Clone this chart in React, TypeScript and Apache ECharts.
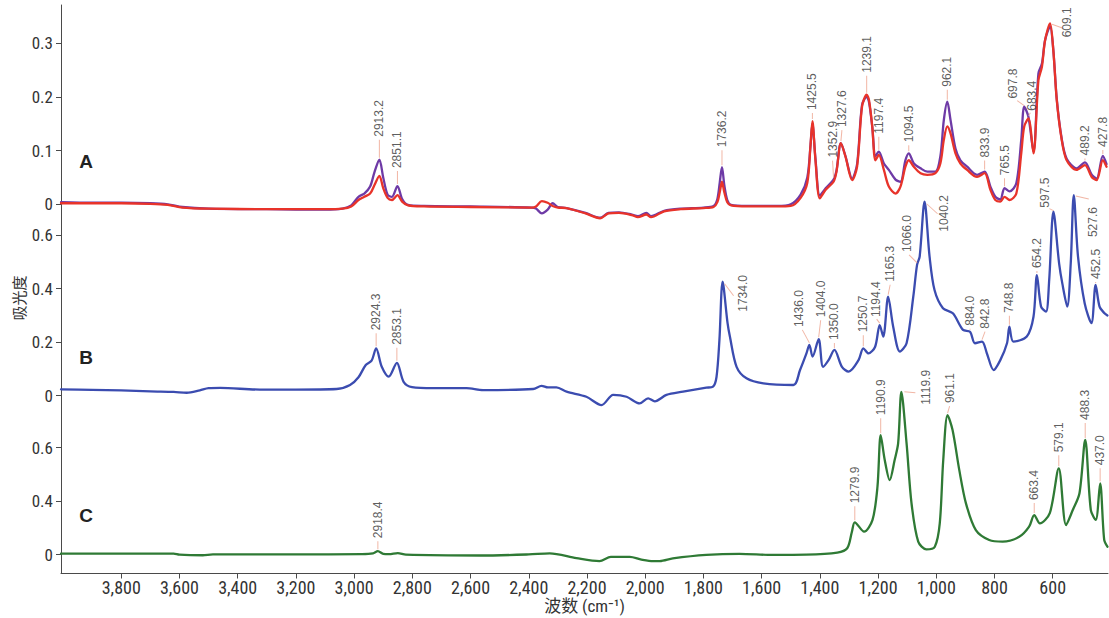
import React, { useEffect, useRef } from 'react';
import * as echarts from 'echarts';

// ---------- data ----------
const xTicks = [3800, 3600, 3400, 3200, 3000, 2800, 2600, 2400, 2200, 2000, 1800, 1600, 1400, 1200, 1000, 800, 600];
const yTicksA = [0, 0.1, 0.2, 0.3];
const yTicksB = [0, 0.2, 0.4, 0.6];
const yTicksC = [0, 0.2, 0.4];
const yTickLabelsC = ['0', '0.4', '0.6'];

const purpleA: [number, number][] = [
  [4007, 0.004], [3900, 0.003], [3800, 0.003], [3700, 0.002], [3640, 0.0], [3590, -0.005], [3500, -0.008], [3300, -0.009],
  [3100, -0.01], [3040, -0.008], [3010, -0.002], [2985, 0.014], [2965, 0.02], [2945, 0.033], [2930, 0.06], [2913.2, 0.083],
  [2900, 0.05], [2885, 0.018], [2870, 0.014], [2851.1, 0.034], [2835, 0.01], [2815, -0.001], [2760, -0.003], [2600, -0.004],
  [2390, -0.006], [2375, -0.008], [2355, -0.017], [2335, -0.01], [2318, 0.002], [2300, -0.005], [2270, -0.007], [2205, -0.016],
  [2155, -0.025], [2126, -0.016], [2090, -0.015], [2046, -0.019], [2025, -0.022], [1996, -0.016], [1980, -0.022], [1935, -0.012],
  [1878, -0.008], [1800, -0.006], [1765, -0.003], [1752, 0.01], [1744, 0.04], [1736.2, 0.069], [1728, 0.035], [1718, 0.008],
  [1705, -0.001], [1650, -0.003], [1547, -0.003], [1500, 0.0], [1466, 0.018], [1443, 0.05], [1432, 0.11], [1425.5, 0.15],
  [1415, 0.085], [1400, 0.016], [1380, 0.03], [1352.9, 0.046], [1343, 0.062], [1327.6, 0.114], [1312, 0.09], [1289, 0.048],
  [1272, 0.075], [1255, 0.185], [1239.1, 0.2], [1231, 0.19], [1220, 0.145], [1209, 0.09], [1197.4, 0.098], [1180, 0.076],
  [1163, 0.064], [1140, 0.046], [1123, 0.042], [1106, 0.082], [1094.5, 0.095], [1077, 0.076], [1054, 0.067], [1031, 0.061],
  [1003, 0.061], [986, 0.089], [974, 0.157], [962.1, 0.191], [951, 0.157], [934, 0.104], [917, 0.082], [894, 0.07],
  [860, 0.055], [833.9, 0.061], [814, 0.033], [797, 0.014], [780, 0.009], [765.5, 0.03], [748, 0.024], [725, 0.039],
  [708, 0.12], [697.8, 0.182], [683.4, 0.163], [666, 0.098], [649, 0.244], [637, 0.262], [626, 0.306], [609.1, 0.331],
  [598, 0.288], [586, 0.196], [569, 0.122], [552, 0.085], [518, 0.067], [489.2, 0.078], [466, 0.055], [449, 0.048],
  [427.8, 0.09], [415, 0.075],
];

const redA: [number, number][] = [
  [4007, 0.002], [3900, 0.002], [3800, 0.002], [3700, 0.001], [3640, -0.001], [3590, -0.006], [3500, -0.008], [3300, -0.009],
  [3100, -0.009], [3040, -0.008], [3010, -0.004], [2985, 0.008], [2965, 0.014], [2945, 0.02], [2930, 0.036], [2913.2, 0.053],
  [2900, 0.03], [2885, 0.012], [2870, 0.008], [2851.1, 0.017], [2835, 0.005], [2815, -0.002], [2760, -0.004], [2600, -0.005],
  [2390, -0.006], [2375, -0.004], [2355, 0.006], [2335, 0.003], [2318, -0.003], [2300, -0.006], [2270, -0.007], [2205, -0.017],
  [2155, -0.026], [2126, -0.017], [2090, -0.016], [2046, -0.02], [2025, -0.024], [1996, -0.019], [1980, -0.024], [1935, -0.013],
  [1878, -0.009], [1800, -0.007], [1765, -0.005], [1752, 0.004], [1744, 0.022], [1736.2, 0.042], [1728, 0.022], [1718, 0.004],
  [1705, -0.002], [1650, -0.004], [1547, -0.004], [1500, -0.003], [1466, 0.012], [1443, 0.04], [1432, 0.11], [1425.5, 0.155],
  [1415, 0.082], [1400, 0.011], [1380, 0.027], [1352.9, 0.042], [1343, 0.06], [1327.6, 0.114], [1312, 0.089], [1289, 0.045],
  [1272, 0.07], [1255, 0.182], [1239.1, 0.204], [1231, 0.194], [1220, 0.145], [1209, 0.082], [1197.4, 0.092], [1180, 0.064],
  [1163, 0.033], [1140, 0.02], [1123, 0.033], [1106, 0.07], [1094.5, 0.082], [1077, 0.07], [1054, 0.058], [1031, 0.055],
  [1003, 0.058], [986, 0.076], [974, 0.12], [962.1, 0.145], [951, 0.132], [934, 0.095], [917, 0.076], [894, 0.064],
  [860, 0.051], [833.9, 0.058], [814, 0.027], [797, 0.008], [780, 0.005], [765.5, 0.014], [748, 0.008], [725, 0.02],
  [708, 0.095], [697.8, 0.145], [683.4, 0.16], [666, 0.095], [649, 0.231], [637, 0.256], [626, 0.306], [609.1, 0.337],
  [598, 0.288], [586, 0.194], [569, 0.12], [552, 0.082], [518, 0.064], [489.2, 0.073], [466, 0.051], [449, 0.045],
  [427.8, 0.082], [415, 0.07],
];

const blueB: [number, number][] = [
  [4007, 0.024], [3900, 0.022], [3800, 0.02], [3700, 0.016], [3620, 0.014], [3575, 0.011], [3530, 0.02], [3500, 0.028],
  [3460, 0.029], [3324, 0.023], [3200, 0.023], [3060, 0.025], [3014, 0.04], [2985, 0.069], [2960, 0.115], [2940, 0.131],
  [2924.3, 0.177], [2905, 0.108], [2881, 0.071], [2853.1, 0.123], [2830, 0.052], [2801, 0.032], [2728, 0.028], [2614, 0.028],
  [2557, 0.021], [2385, 0.025], [2356, 0.037], [2334, 0.031], [2305, 0.031], [2270, 0.015], [2202, -0.004], [2150, -0.035],
  [2110, 0.003], [2064, -0.004], [2019, -0.029], [1990, -0.01], [1967, -0.021], [1927, 0.003], [1870, 0.015], [1790, 0.03],
  [1767, 0.034], [1755, 0.07], [1745, 0.208], [1734.0, 0.426], [1717, 0.271], [1709, 0.221], [1686, 0.108], [1652, 0.065],
  [1594, 0.046], [1491, 0.04], [1468, 0.096], [1446, 0.158], [1436.0, 0.19], [1425, 0.146], [1404.0, 0.211], [1389, 0.108],
  [1370, 0.133], [1350.0, 0.171], [1324, 0.108], [1301, 0.09], [1267, 0.133], [1250.7, 0.177], [1233, 0.158], [1210, 0.183],
  [1194.4, 0.264], [1182, 0.221], [1165.3, 0.37], [1148, 0.258], [1125, 0.165], [1102, 0.196], [1079, 0.37], [1066.0, 0.489],
  [1057, 0.52], [1040.2, 0.725], [1023, 0.52], [1006, 0.395], [977, 0.327], [943, 0.308], [908, 0.246], [884.0, 0.239],
  [867, 0.196], [842.8, 0.202], [826, 0.158], [803, 0.096], [780, 0.133], [757, 0.196], [748.8, 0.258], [735, 0.202],
  [689, 0.221], [666, 0.295], [654.2, 0.451], [640, 0.333], [623, 0.314], [612, 0.433], [597.5, 0.688], [578, 0.495],
  [567, 0.42], [550, 0.333], [538, 0.495], [527.6, 0.75], [513, 0.52], [490, 0.345], [467, 0.271], [452.5, 0.414],
  [439, 0.333], [422, 0.308], [412, 0.3],
];

const greenC: [number, number][] = [
  [4007, 0.004], [3800, 0.004], [3620, 0.004], [3600, 0.0], [3520, -0.002], [3485, 0.001], [3200, 0.001], [2973, 0.002],
  [2935, 0.005], [2918.4, 0.013], [2900, 0.003], [2880, 0.002], [2850, 0.006], [2822, 0.0], [2565, -0.003], [2400, 0.001],
  [2328, 0.005], [2236, -0.013], [2157, -0.024], [2118, -0.008], [2053, -0.008], [2013, -0.018], [1973, -0.024], [1950, -0.024],
  [1905, -0.014], [1790, -0.001], [1676, 0.003], [1561, -0.001], [1447, 0.0], [1340, 0.008], [1306, 0.024], [1290, 0.085],
  [1279.9, 0.121], [1248, 0.086], [1219, 0.13], [1202, 0.254], [1190.9, 0.447], [1177, 0.354], [1160, 0.279], [1143, 0.354],
  [1131, 0.416], [1119.9, 0.609], [1102, 0.416], [1085, 0.192], [1062, 0.049], [1034, 0.02], [1005, 0.03], [988, 0.117],
  [976, 0.354], [961.1, 0.522], [944, 0.466], [921, 0.317], [898, 0.192], [864, 0.092], [818, 0.055], [772, 0.049],
  [715, 0.067], [681, 0.105], [663.4, 0.148], [644, 0.117], [610, 0.155], [579.1, 0.323], [554, 0.111], [531, 0.167],
  [508, 0.23], [488.3, 0.429], [469, 0.167], [452, 0.13], [437.0, 0.267], [423, 0.055], [412, 0.03],
];

const peaksA = [2913.2, 2851.1, 1736.2, 1425.5, 1352.9, 1327.6, 1239.1, 1197.4, 1094.5, 962.1, 833.9, 765.5, 697.8, 683.4, 609.1, 489.2, 427.8];
const peaksB = [2924.3, 2853.1, 1734.0, 1436.0, 1404.0, 1350.0, 1250.7, 1194.4, 1165.3, 1066.0, 1040.2, 884.0, 842.8, 748.8, 654.2, 597.5, 527.6, 452.5];
const peaksC = [2918.4, 1279.9, 1190.9, 1119.9, 961.1, 663.4, 579.1, 488.3, 437.0];

// ---------- layout / style ----------
type Lay = { a: [number, number]; l?: [number, number, number, number] };
const layoutA: Record<string, Lay> = {
  '2913.2': { a: [0, -23] }, '2851.1': { a: [0, -18] }, '1736.2': { a: [0, -20] }, '1425.5': { a: [0, -11] },
  '1352.9': { a: [-1, -22] }, '1327.6': { a: [1, -16] }, '1239.1': { a: [0, -22] }, '1197.4': { a: [0, -18] },
  '1094.5': { a: [0, -11] }, '962.1': { a: [0, -15] }, '833.9': { a: [0, -14] }, '765.5': { a: [0, -13] },
  '697.8': { a: [-11, -8], l: [0, -1, -7, -6] }, '683.4': { a: [4, -6], l: [0, -1, 2, -4] },
  '609.1': { a: [17, 14], l: [2, 1, 13, 5] }, '489.2': { a: [0, -7] }, '427.8': { a: [0, -9] },
};
const layoutB: Record<string, Lay> = {
  '2924.3': { a: [0, -18] }, '2853.1': { a: [0, -18] }, '1734.0': { a: [20, 30], l: [2, 2, 11, 14] },
  '1436.0': { a: [-10, -18], l: [0, -2, -7, -15] }, '1404.0': { a: [2, -22] }, '1350.0': { a: [0, -10] },
  '1250.7': { a: [0, -16] }, '1194.4': { a: [-4, -8], l: [0, -2, -3, -6] }, '1165.3': { a: [2, -15] },
  '1066.0': { a: [-10, -13], l: [0, -2, -8, -10] }, '1040.2': { a: [19, 30], l: [2, 2, 13, 12] },
  '884.0': { a: [0, -6] }, '842.8': { a: [3, -13] }, '748.8': { a: [0, -14] }, '654.2': { a: [0, -7] },
  '597.5': { a: [-8, -4], l: [0, -1, -4, -3] }, '527.6': { a: [19, 42], l: [2, 1, 15, 4] }, '452.5': { a: [0, -6] },
};
const layoutC: Record<string, Lay> = {
  '2918.4': { a: [0, -13] }, '1279.9': { a: [0, -19] }, '1190.9': { a: [0, -20] },
  '1119.9': { a: [25, 13], l: [3, 0, 14, 1] }, '961.1': { a: [2, -12] }, '663.4': { a: [0, -15] },
  '579.1': { a: [0, -16] }, '488.3': { a: [0, -20] }, '437.0': { a: [0, -18] },
};

const NARROW = "'Liberation Sans Narrow','Roboto Condensed','DejaVu Sans Condensed','Liberation Sans',sans-serif";
const REG = "'Liberation Sans',Arial,sans-serif";
const AXIS_COLOR = '#4a4a4a';
const TEXT_COLOR = '#333';
const LEADER = '#eda48e';

function valueAt(list: [number, number][][], wn: number): number {
  let best = -Infinity;
  list.forEach((s) => {
    const p = s.find((d) => Math.abs(d[0] - wn) < 1e-6);
    if (p && p[1] > best) best = p[1];
  });
  return best;
}

function leaderItems(peaks: number[], series: [number, number][][], lay: Record<string, Lay>) {
  return peaks.map((wn) => {
    const key = wn.toFixed(1);
    const L0 = lay[key] || { a: [0, -16] };
    const l = L0.l || [0, -2, L0.a[0], L0.a[1] + 3];
    const vx = l[2] - l[0];
    const vy = l[3] - l[1];
    const len = Math.max(1, Math.hypot(vx, vy));
    const rot = (Math.atan2(-vx, -vy) * 180) / Math.PI;
    return {
      value: [wn, valueAt(series, wn)],
      symbolSize: [1, len],
      symbolOffset: [(l[0] + l[2]) / 2, (l[1] + l[3]) / 2],
      symbolRotate: rot,
    };
  });
}

function labelItems(peaks: number[], series: [number, number][][], lay: Record<string, Lay>) {
  return peaks.map((wn) => {
    const key = wn.toFixed(1);
    const L0 = lay[key] || { a: [0, -16] };
    return {
      value: [wn, valueAt(series, wn)],
      label: { position: [L0.a[0] + 0.5, L0.a[1] + 0.5] },
    };
  });
}

function buildOption(): any {
  const grids = [
    { left: 61, right: 1, top: 5, height: 215 },
    { left: 61, right: 1, top: 220, height: 200 },
    { left: 61, right: 1, top: 420, height: 153.5 },
  ];
  const yRanges = [
    [-0.0292, 0.3711],
    [-0.0908, 0.6568],
    [-0.0703, 0.5036],
  ];
  const yTicks = [yTicksA, yTicksB, yTicksC];
  const fmtY = [
    (v: number) => (v === 0 ? '0' : v.toFixed(1)),
    (v: number) => (v === 0 ? '0' : v.toFixed(1)),
    (v: number) => {
      const i = yTicksC.findIndex((t) => Math.abs(t - v) < 1e-9);
      return i >= 0 ? yTickLabelsC[i] : '';
    },
  ];

  const xAxis = grids.map((_, i) => ({
    type: 'value',
    gridIndex: i,
    inverse: true,
    min: 410,
    max: 4007,
    show: i === 2,
    splitLine: { show: false },
    axisLine: { show: true, onZero: false, lineStyle: { color: AXIS_COLOR, width: 1 } },
    axisTick: { show: true, customValues: xTicks, length: 5, lineStyle: { color: AXIS_COLOR } },
    axisLabel: {
      customValues: xTicks,
      formatter: (v: number) => v.toLocaleString('en-US'),
      color: TEXT_COLOR,
      fontSize: 18,
      fontFamily: NARROW,
      margin: 5,
    },
    name: i === 2 ? '波数 (cm⁻¹)' : '',
    nameLocation: 'middle',
    nameGap: 23,
    nameTextStyle: { color: TEXT_COLOR, fontSize: 17, fontFamily: NARROW + ",'Noto Sans CJK SC'" },
  }));

  const yAxis = grids.map((_, i) => ({
    type: 'value',
    gridIndex: i,
    min: yRanges[i][0],
    max: yRanges[i][1],
    splitLine: { show: false },
    axisLine: { show: true, onZero: false, lineStyle: { color: AXIS_COLOR, width: 1 } },
    axisTick: { show: true, customValues: yTicks[i], length: 5, lineStyle: { color: AXIS_COLOR } },
    axisLabel: {
      customValues: yTicks[i],
      formatter: fmtY[i],
      color: TEXT_COLOR,
      fontSize: 17,
      fontFamily: NARROW,
      margin: 8,
    },
  }));

  const lineSeries = (name: string, data: [number, number][], idx: number, color: string, z: number) => ({
    type: 'line',
    name,
    xAxisIndex: idx,
    yAxisIndex: idx,
    data,
    showSymbol: false,
    symbol: 'none',
    smooth: 0.3,
    clip: false,
    z,
    silent: true,
    lineStyle: { color, width: 2.3, join: 'round', cap: 'round' },
  });

  const panels = [
    { peaks: peaksA, series: [purpleA, redA], lay: layoutA },
    { peaks: peaksB, series: [blueB], lay: layoutB },
    { peaks: peaksC, series: [greenC], lay: layoutC },
  ];

  const leaderSeries = panels.map((p, i) => ({
    type: 'scatter',
    xAxisIndex: i,
    yAxisIndex: i,
    symbol: 'rect',
    clip: false,
    silent: true,
    z: 4,
    itemStyle: { color: LEADER },
    data: leaderItems(p.peaks, p.series, p.lay),
  }));

  const labelSeries = panels.map((p, i) => ({
    type: 'scatter',
    xAxisIndex: i,
    yAxisIndex: i,
    symbol: 'rect',
    symbolSize: 1,
    clip: false,
    silent: true,
    z: 5,
    itemStyle: { color: 'rgba(0,0,0,0)' },
    label: {
      show: true,
      rotate: 90,
      align: 'left',
      verticalAlign: 'middle',
      color: TEXT_COLOR,
      fontSize: 12,
      fontFamily: REG,
      formatter: (pr: any) => Number(pr.value[0]).toFixed(1),
    },
    data: labelItems(p.peaks, p.series, p.lay),
  }));

  const letter = (t: string, y: number) => ({
    type: 'text',
    x: 86,
    y,
    style: { text: t, fill: '#222', font: `bold 19px ${REG}`, align: 'center', verticalAlign: 'middle' },
  });

  return {
    animation: false,
    backgroundColor: '#fff',
    grid: grids,
    xAxis,
    yAxis,
    series: [
      lineSeries('A-purple', purpleA, 0, '#6e3aa6', 2),
      lineSeries('A-red', redA, 0, '#e8332a', 3),
      lineSeries('B', blueB, 1, '#3b4cb0', 2),
      lineSeries('C', greenC, 2, '#2f7a35', 2),
      ...leaderSeries,
      ...labelSeries,
    ],
    graphic: [
      letter('A', 161),
      letter('B', 357),
      letter('C', 515),
      {
        type: 'text',
        x: 18,
        y: 298,
        rotation: Math.PI / 2,
        style: {
          text: '吸光度',
          fill: TEXT_COLOR,
          font: "15px 'Noto Sans CJK SC'",
          align: 'center',
          verticalAlign: 'middle',
        },
      },
    ],
  };
}

export default function App() {
  const ref = useRef<HTMLDivElement>(null);
  useEffect(() => {
    if (!ref.current) return;
    const chart = echarts.init(ref.current, null, { renderer: 'svg' });
    chart.setOption(buildOption());
    return () => chart.dispose();
  }, []);
  return (
    <div
      ref={ref}
      style={{ position: 'fixed', left: 0, top: 0, width: 1109, height: 618, background: '#fff' }}
    />
  );
}
